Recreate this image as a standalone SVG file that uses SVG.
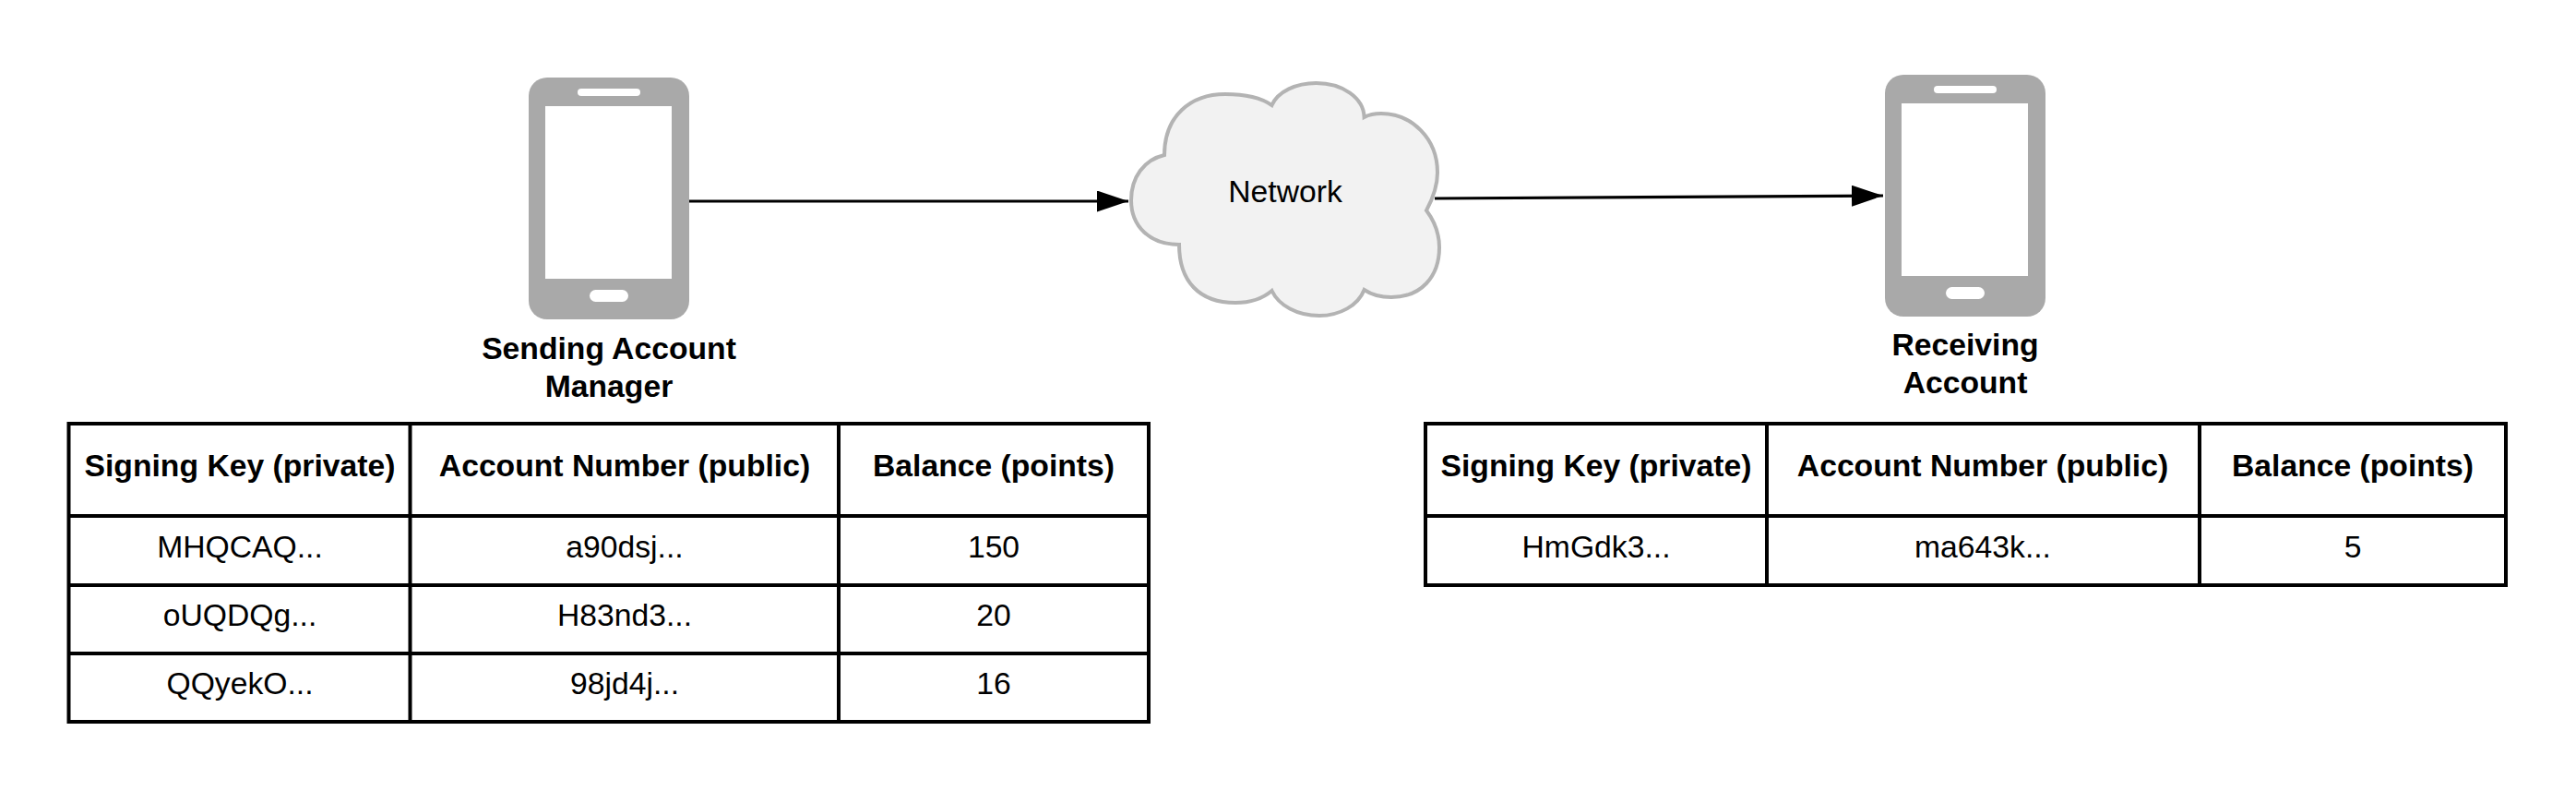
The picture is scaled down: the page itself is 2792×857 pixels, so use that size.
<svg xmlns="http://www.w3.org/2000/svg" width="2792" height="857" viewBox="0 0 2792 857">
<style>
text{font-family:"Liberation Sans",Arial,sans-serif;font-size:33.700px;fill:#000;text-anchor:middle}
.b{font-weight:700}
.grid{fill:none;stroke:#000;stroke-width:4;stroke-linecap:square}
.conn{fill:none;stroke:#000;stroke-width:3.200;marker-end:url(#arrow)}
.body{fill:#a9a9a9}
.hole{fill:#fff}
</style>
<defs>
<marker id="arrow" markerUnits="userSpaceOnUse" markerWidth="36" markerHeight="24" refX="34" refY="11.500" orient="auto"><path d="M0 0L34 11.500L0 23Z" fill="#000"/></marker>
<g id="phone">
<rect class="body" x="573" y="84" width="174" height="262" rx="20"/>
<rect class="hole" x="591" y="115" width="137" height="187"/>
<rect class="hole" x="626" y="96" width="68" height="8" rx="4"/>
<rect class="hole" x="639" y="314" width="42" height="13" rx="6.500"/>
</g>
</defs>
<rect width="2792" height="857" fill="#fff"/>
<g id="sender">
<use href="#phone"/>
<text class="b" x="660" y="389">Sending Account</text>
<text class="b" x="660" y="430">Manager</text>
</g>
<g id="network">
<path d="M1262 168C1262 126 1290 102 1328 102C1348 102 1367 106 1378.500 114C1385 99 1405 90 1426.500 90C1455 90 1478 106 1478.600 127C1484 124 1490 123 1497 123C1530 123 1558 150 1558 187C1558 202 1553 215 1546 228C1555 240 1560 253 1560 268C1560 300 1540 322 1508 322C1496 322 1486 319 1478.600 314C1472 331 1452 342 1430 342C1406 342 1386 331 1378.500 315C1368 324 1354 328 1339 328C1300 328 1278 305 1278 265C1246 265 1226 245 1226 217C1226 192 1240 173 1262 168Z" fill="#f2f2f2" stroke="#b3b3b3" stroke-width="4"/>
<text x="1393" y="219">Network</text>
</g>
<g id="receiver">
<use href="#phone" transform="translate(1470 -3)"/>
<text class="b" x="2130" y="385">Receiving</text>
<text class="b" x="2130" y="426">Account</text>
</g>
<g id="connectors">
<path class="conn" d="M747 218H1223"/>
<path class="conn" d="M1555 215L2041 212"/>
</g>
<g id="table-sender">
<path class="grid" d="M74.500 459H1245V782H74.500ZM74.500 559H1245M74.500 634H1245M74.500 708H1245M444.500 459V782M909 459V782"/>
<text class="b" x="260" y="516">Signing Key (private)</text>
<text class="b" x="677" y="516">Account Number (public)</text>
<text class="b" x="1077" y="516">Balance (points)</text>
<text x="260" y="604">MHQCAQ...</text><text x="677" y="604">a90dsj...</text><text x="1077" y="604">150</text>
<text x="260" y="678">oUQDQg...</text><text x="677" y="678">H83nd3...</text><text x="1077" y="678">20</text>
<text x="260" y="752">QQyekO...</text><text x="677" y="752">98jd4j...</text><text x="1077" y="752">16</text>
</g>
<g id="table-receiver">
<path class="grid" d="M1545 459H2716V634H1545ZM1545 559H2716M1915 459V634M2384 459V634"/>
<text class="b" x="1730" y="516">Signing Key (private)</text>
<text class="b" x="2149" y="516">Account Number (public)</text>
<text class="b" x="2550" y="516">Balance (points)</text>
<text x="1730" y="604">HmGdk3...</text><text x="2149" y="604">ma643k...</text><text x="2550" y="604">5</text>
</g>
</svg>
